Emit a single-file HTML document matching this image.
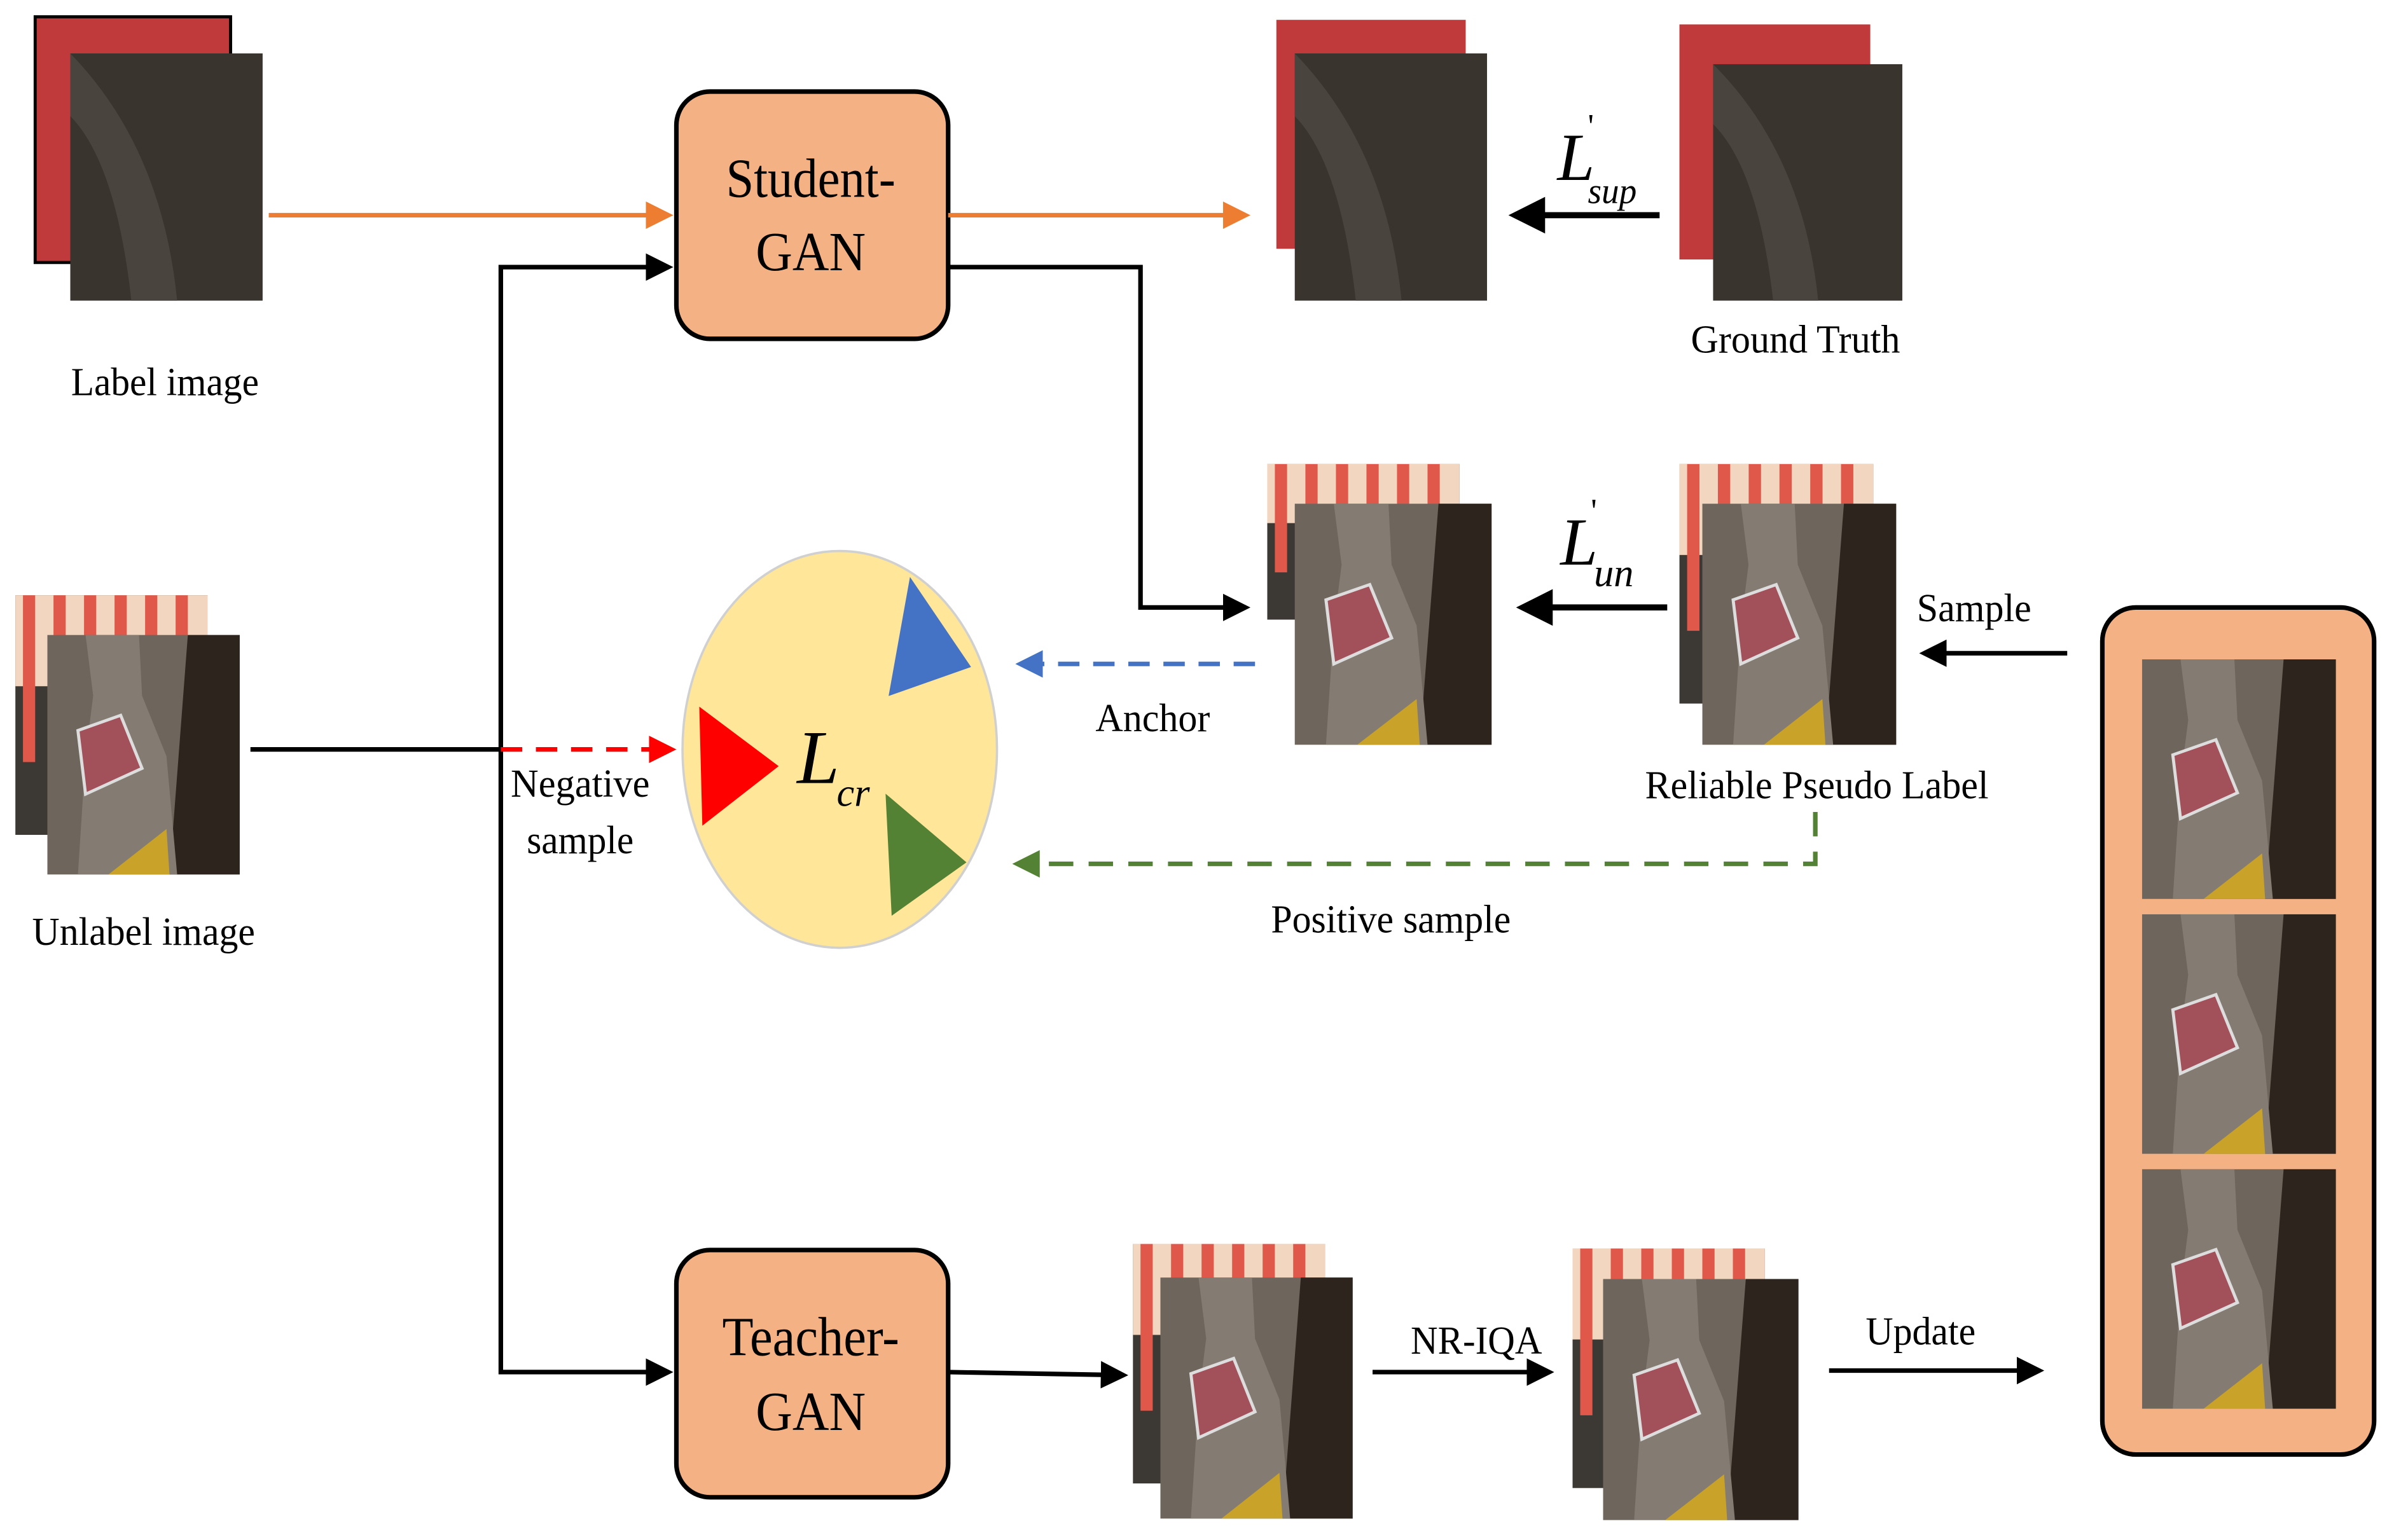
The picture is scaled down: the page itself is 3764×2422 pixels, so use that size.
<!DOCTYPE html>
<html><head><meta charset="utf-8"><style>html,body{margin:0;padding:0;background:#fff}svg{display:block}</style></head>
<body>
<svg width="3764" height="2422" viewBox="0 0 1568 1009" xmlns="http://www.w3.org/2000/svg" font-family="Liberation Serif, serif">
<defs>
<marker id="ab" markerWidth="6" markerHeight="6" refX="5" refY="3" orient="auto" markerUnits="strokeWidth"><path d="M0,0L6,3L0,6z" fill="#000"/></marker>
<marker id="ao" markerWidth="6" markerHeight="6" refX="5" refY="3" orient="auto" markerUnits="strokeWidth"><path d="M0,0L6,3L0,6z" fill="#ed7d31"/></marker>
<marker id="ar" markerWidth="6" markerHeight="6" refX="5" refY="3" orient="auto" markerUnits="strokeWidth"><path d="M0,0L6,3L0,6z" fill="#f00"/></marker>
<marker id="abl" markerWidth="6" markerHeight="6" refX="5" refY="3" orient="auto" markerUnits="strokeWidth"><path d="M0,0L6,3L0,6z" fill="#4472c4"/></marker>
<marker id="ag" markerWidth="6" markerHeight="6" refX="5" refY="3" orient="auto" markerUnits="strokeWidth"><path d="M0,0L6,3L0,6z" fill="#548235"/></marker>
<symbol id="bot" viewBox="0 0 126 158" preserveAspectRatio="none">
<rect width="126" height="158" fill="#6e665c"/>
<path d="M92,0H126V158H80z" fill="#2e241e"/>
<path d="M25,0H60L62,40L78,80L85,158H20L25,80L30,40z" fill="#847c72"/>
<path d="M20,63L48,53L62,88L25,105z" fill="#a2505a" stroke="#ddd" stroke-width="2"/>
<path d="M40,158L78,128L80,158z" fill="#c9a22a"/>
</symbol>
<symbol id="str" viewBox="0 0 126 158" preserveAspectRatio="none">
<rect width="126" height="158" fill="#3c3834"/>
<rect width="126" height="60" fill="#f2d6c0"/>
<g fill="#e0584a"><rect x="5" width="8" height="110"/><rect x="25" width="8" height="60"/><rect x="45" width="8" height="60"/><rect x="65" width="8" height="60"/><rect x="85" width="8" height="60"/><rect x="105" width="8" height="60"/></g>
</symbol>
<symbol id="dark" viewBox="0 0 126 158" preserveAspectRatio="none">
<rect width="126" height="158" fill="#3a342f"/>
<path d="M0,0Q60,60 70,158H40Q30,70 0,40z" fill="#4a443e"/>
</symbol>
</defs>
<rect width="1568" height="1009" fill="#fff"/>

<rect x="23" y="11" width="128" height="161" fill="#c0393b" stroke="#000" stroke-width="2"/>
<use href="#dark" x="46" y="35" width="126" height="162"/>
<text x="108" y="259" font-size="26" text-anchor="middle" textLength="123" lengthAdjust="spacingAndGlyphs">Label image</text>
<line x1="176" y1="141" x2="438" y2="141" stroke="#ed7d31" stroke-width="3" marker-end="url(#ao)"/>

<rect x="443" y="60" width="178" height="162" rx="22" fill="#f4b183" stroke="#000" stroke-width="3"/>
<text x="531" y="129" font-size="36" text-anchor="middle" textLength="111" lengthAdjust="spacingAndGlyphs">Student-</text>
<text x="531" y="177" font-size="36" text-anchor="middle" textLength="72" lengthAdjust="spacingAndGlyphs">GAN</text>
<line x1="621" y1="141" x2="816" y2="141" stroke="#ed7d31" stroke-width="3" marker-end="url(#ao)"/>

<rect x="836" y="13" width="124" height="150" fill="#c0393b"/>
<use href="#dark" x="848" y="35" width="126" height="162"/>
<line x1="1087" y1="141" x2="992" y2="141" stroke="#000" stroke-width="4" marker-end="url(#ab)"/>
<text x="1020" y="118" font-size="44" font-style="italic">L</text><text x="1040" y="90" font-size="22">'</text><text x="1040" y="133" font-size="24" font-style="italic" textLength="32" lengthAdjust="spacingAndGlyphs">sup</text>
<rect x="1100" y="16" width="125" height="154" fill="#c0393b"/>
<use href="#dark" x="1122" y="42" width="124" height="155"/>
<text x="1176" y="231" font-size="26" text-anchor="middle" textLength="137" lengthAdjust="spacingAndGlyphs">Ground Truth</text>

<polyline points="621,175 747,175 747,398 816,398" fill="none" stroke="#000" stroke-width="3" marker-end="url(#ab)"/>
<polyline points="438,175 328,175 328,899 438,899" fill="none" stroke="#000" stroke-width="3"/>
<line x1="328" y1="175" x2="438" y2="175" stroke="#000" stroke-width="3" marker-end="url(#ab)"/>
<line x1="328" y1="899" x2="438" y2="899" stroke="#000" stroke-width="3" marker-end="url(#ab)"/>

<use href="#str" x="10" y="390" width="126" height="157"/>
<use href="#bot" x="31" y="416" width="126" height="157"/>
<text x="94" y="619" font-size="26" text-anchor="middle" textLength="146" lengthAdjust="spacingAndGlyphs">Unlabel image</text>
<line x1="164" y1="491" x2="328" y2="491" stroke="#000" stroke-width="3"/>
<line x1="328" y1="491" x2="440" y2="491" stroke="#f00" stroke-width="3" stroke-dasharray="14,9" marker-end="url(#ar)"/>
<text x="380" y="522" font-size="26" text-anchor="middle" textLength="91" lengthAdjust="spacingAndGlyphs">Negative</text>
<text x="380" y="559" font-size="26" text-anchor="middle" textLength="70" lengthAdjust="spacingAndGlyphs">sample</text>

<ellipse cx="550" cy="491" rx="103" ry="130" fill="#ffe699" stroke="#d0d0d0" stroke-width="1.5"/>
<polygon points="596,378 636,437 582,456" fill="#4472c4"/>
<polygon points="458,463 510,502 460,541" fill="#f00"/>
<polygon points="580,520 633,565 584,600" fill="#548235"/>
<text x="522" y="513" font-size="50" font-style="italic">L</text><text x="548" y="528" font-size="26" font-style="italic">cr</text>

<use href="#str" x="830" y="304" width="126" height="102"/>
<use href="#bot" x="848" y="330" width="129" height="158"/>
<line x1="822" y1="435" x2="668" y2="435" stroke="#4472c4" stroke-width="3" stroke-dasharray="14,9" marker-end="url(#abl)"/>
<text x="755" y="479" font-size="26" text-anchor="middle" textLength="75" lengthAdjust="spacingAndGlyphs">Anchor</text>
<line x1="1092" y1="398" x2="997" y2="398" stroke="#000" stroke-width="4" marker-end="url(#ab)"/>
<text x="1022" y="370" font-size="44" font-style="italic">L</text><text x="1042" y="342" font-size="22">'</text><text x="1044" y="384" font-size="26" font-style="italic">un</text>
<use href="#str" x="1100" y="304" width="127" height="157"/>
<use href="#bot" x="1115" y="330" width="127" height="158"/>
<text x="1190" y="523" font-size="26" text-anchor="middle" textLength="225" lengthAdjust="spacingAndGlyphs">Reliable Pseudo Label</text>
<line x1="1354" y1="428" x2="1260" y2="428" stroke="#000" stroke-width="3" marker-end="url(#ab)"/>
<text x="1293" y="407" font-size="26" text-anchor="middle" textLength="75" lengthAdjust="spacingAndGlyphs">Sample</text>
<polyline points="1189,532 1189,566 666,566" fill="none" stroke="#548235" stroke-width="3" stroke-dasharray="16,10" marker-end="url(#ag)"/>
<text x="911" y="611" font-size="26" text-anchor="middle" textLength="157" lengthAdjust="spacingAndGlyphs">Positive sample</text>

<rect x="1377" y="398" width="178" height="555" rx="22" fill="#f4b183" stroke="#000" stroke-width="3"/>
<use href="#bot" x="1403" y="432" width="127" height="157"/>
<use href="#bot" x="1403" y="599" width="127" height="157"/>
<use href="#bot" x="1403" y="766" width="127" height="157"/>

<rect x="443" y="819" width="178" height="162" rx="22" fill="#f4b183" stroke="#000" stroke-width="3"/>
<text x="531" y="888" font-size="36" text-anchor="middle" textLength="116" lengthAdjust="spacingAndGlyphs">Teacher-</text>
<text x="531" y="937" font-size="36" text-anchor="middle" textLength="72" lengthAdjust="spacingAndGlyphs">GAN</text>
<line x1="621" y1="899" x2="736" y2="901" stroke="#000" stroke-width="3" marker-end="url(#ab)"/>
<use href="#str" x="742" y="815" width="126" height="157"/>
<use href="#bot" x="760" y="837" width="126" height="158"/>
<line x1="899" y1="899" x2="1015" y2="899" stroke="#000" stroke-width="3" marker-end="url(#ab)"/>
<text x="967" y="887" font-size="26" text-anchor="middle" textLength="86" lengthAdjust="spacingAndGlyphs">NR-IQA</text>
<use href="#str" x="1030" y="818" width="126" height="157"/>
<use href="#bot" x="1050" y="838" width="128" height="158"/>
<line x1="1198" y1="898" x2="1336" y2="898" stroke="#000" stroke-width="3" marker-end="url(#ab)"/>
<text x="1258" y="881" font-size="26" text-anchor="middle" textLength="72" lengthAdjust="spacingAndGlyphs">Update</text>
</svg>
</body></html>
